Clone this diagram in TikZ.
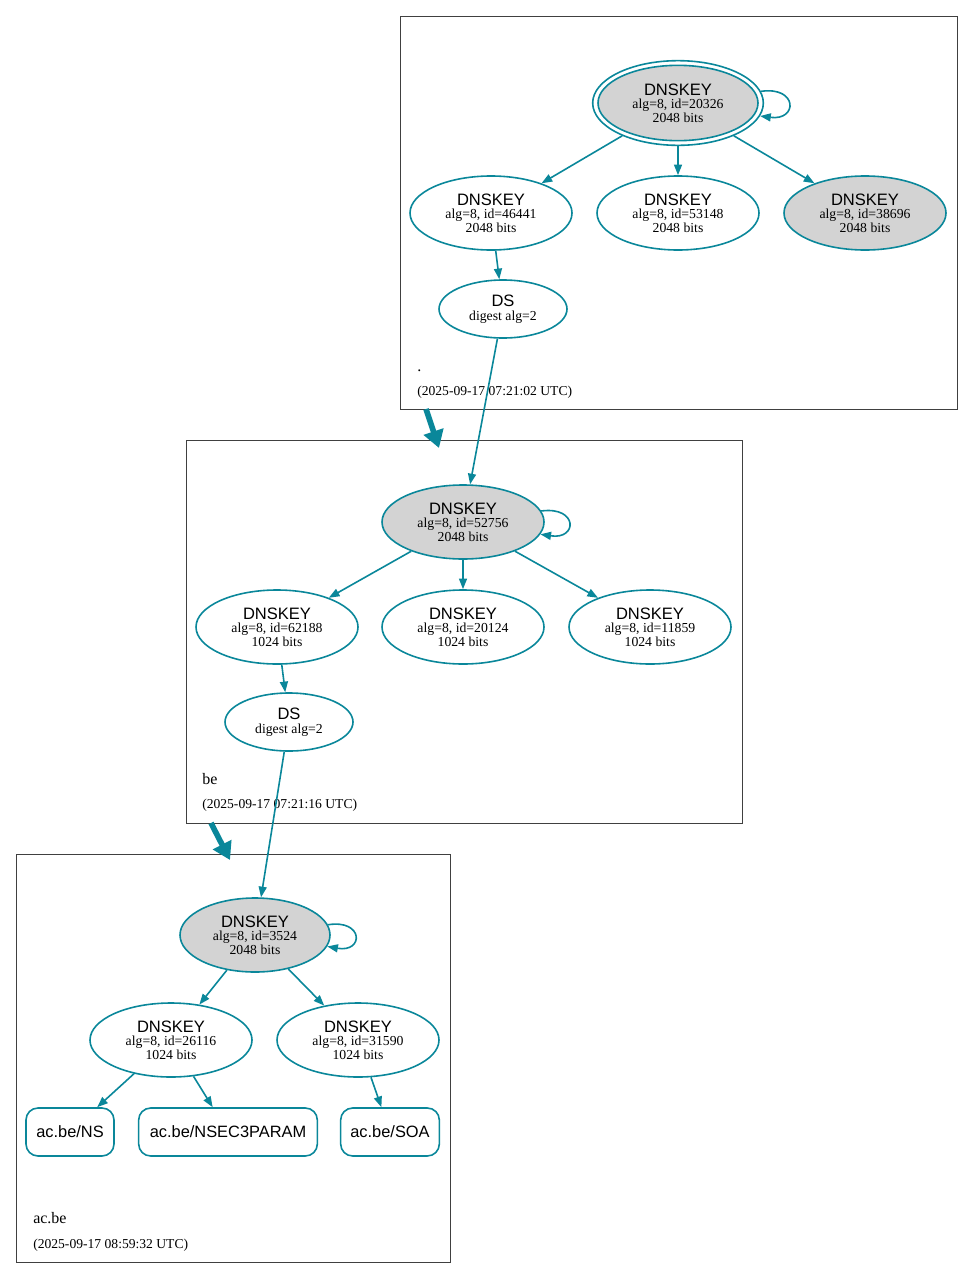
\documentclass[tikz,border=0pt]{standalone}
\usepackage{fontspec}
\setmainfont{Liberation Serif}
\setsansfont{Liberation Sans}
\usetikzlibrary{shapes.geometric,arrows.meta}
\definecolor{dv}{HTML}{0A879A}
\definecolor{kfill}{HTML}{D3D3D3}
\newcommand{\Kl}[2]{{\sffamily\fontsize{12.4}{10}\selectfont DNSKEY}\\alg=8, id=#1\\#2 bits}
\newcommand{\Dl}{{\sffamily\fontsize{12.4}{10}\selectfont DS}\\[0.5pt]digest alg=2}
\tikzset{
  key/.style={ellipse, draw=dv, line width=1.2pt, minimum width=121.5pt, minimum height=55.5pt, inner sep=0pt, align=center, font=\fontsize{10.3}{10}\selectfont},
  ksk/.style={key, fill=kfill},
  dsnode/.style={key, minimum width=96pt, minimum height=43.5pt},
  rr/.style={draw=dv, line width=1.2pt, rounded corners=9pt, minimum height=36pt, inner sep=0pt, font=\sffamily\fontsize{12.3}{14}\selectfont},
  edge/.style={draw=dv, line width=1.2pt, -{Triangle[length=8pt,width=6pt]}},
  thick edge/.style={draw=dv, line width=4.2pt, -{Triangle[length=13pt,width=15pt]}},
  cl/.style={draw=black!75, line width=0.6pt},
  lab/.style={anchor=base west, inner sep=0pt, font=\fontsize{12}{12}\selectfont},
  datel/.style={anchor=base west, inner sep=0pt, font=\fontsize{10.2}{10}\selectfont}
}
\begin{document}
\begin{tikzpicture}[x=0.75pt,y=-0.75pt]
\useasboundingbox (0,0) rectangle (973,1278);
% clusters
\draw[cl] (400,16) rectangle (957,409);
\draw[cl] (186,440) rectangle (742,823);
\draw[cl] (16,854) rectangle (450,1262);
\node[lab] (l1) at (417,371) {.};
\node[datel] (d1) at (417,395) {(2025-09-17 07:21:02 UTC)};
\node[lab] (l2) at (202,784) {be};
\node[datel] (d2) at (202,808) {(2025-09-17 07:21:16 UTC)};
\node[lab] (l3) at (33,1223) {ac.be};
\node[datel] (d3) at (33,1248) {(2025-09-17 08:59:32 UTC)};
% root zone
\node[ellipse, draw=dv, line width=1.2pt, minimum width=128pt, minimum height=63.5pt, inner sep=0pt] (k20326o) at (678,103) {};
\node[ksk, minimum width=120pt, minimum height=56.5pt] (k20326) at (678,103) {\Kl{20326}{2048}};
\node[key] (k46441) at (491,213) {\Kl{46441}{2048}};
\node[key] (k53148) at (678,213) {\Kl{53148}{2048}};
\node[ksk] (k38696) at (865,213) {\Kl{38696}{2048}};
\node[dsnode] (ds1) at (503,309) {\Dl};
% be zone
\node[ksk] (k52756) at (463,522) {\Kl{52756}{2048}};
\node[key] (k62188) at (277,627) {\Kl{62188}{1024}};
\node[key] (k20124) at (463,627) {\Kl{20124}{1024}};
\node[key] (k11859) at (650,627) {\Kl{11859}{1024}};
\node[dsnode] (ds2) at (289,722) {\Dl};
% ac.be zone
\node[ksk, minimum width=112.5pt] (k3524) at (255,935) {\Kl{3524}{2048}};
\node[key] (k26116) at (171,1040) {\Kl{26116}{1024}};
\node[key] (k31590) at (358,1040) {\Kl{31590}{1024}};
\node[rr, minimum width=66pt] (ns) at (70,1132) {ac.be/NS};
\node[rr, minimum width=134pt] (nsec) at (228,1132) {ac.be/NSEC3PARAM};
\node[rr, minimum width=74pt] (soa) at (390,1132) {ac.be/SOA};
% self loops
\draw[edge] (k20326o.8) .. controls (798,86) and (798,121) .. (k20326o.-9);
\draw[edge] (k52756.8) .. controls (578,506) and (578,540) .. (k52756.-9);
\draw[edge] (k3524.8) .. controls (364,919) and (364,953) .. (k3524.-9);
% edges
\draw[edge] (k20326o) -- (k46441);
\draw[edge] (k20326o) -- (k53148);
\draw[edge] (k20326o) -- (k38696);
\draw[edge] (k46441) -- (ds1);
\draw[edge] (ds1) -- (k52756);
\draw[edge] (k52756) -- (k62188);
\draw[edge] (k52756) -- (k20124);
\draw[edge] (k52756) -- (k11859);
\draw[edge] (k62188) -- (ds2);
\draw[edge] (ds2) -- (k3524);
\draw[edge] (k3524) -- (k26116);
\draw[edge] (k3524) -- (k31590);
\draw[edge] (k26116) -- (ns);
\draw[edge] (k26116) -- (nsec);
\draw[edge] (k31590) -- (soa);
% inter-zone arrows
\coordinate (t1s) at (426,409);
\coordinate (t1e) at (439,448);
\coordinate (t2s) at (211,823);
\coordinate (t2e) at (230,860);
\draw[thick edge] (t1s) -- (t1e);
\draw[thick edge] (t2s) -- (t2e);
\end{tikzpicture}
\end{document}
